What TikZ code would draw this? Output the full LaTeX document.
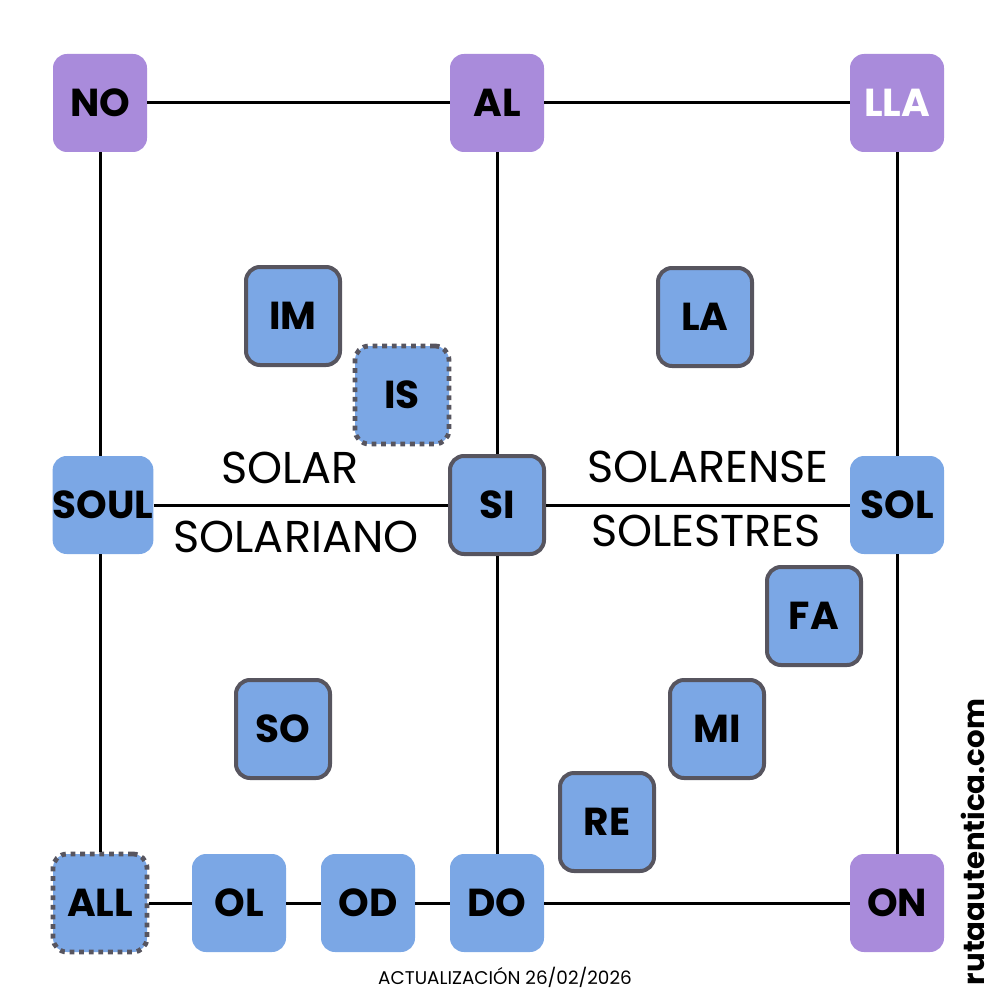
\documentclass[tikz,border=0pt]{standalone}
\usepackage{fontspec}
\setmainfont{Poppins}
\definecolor{lila}{HTML}{A98BDB}
\definecolor{azul}{HTML}{7BA7E5}
\definecolor{borde}{HTML}{57555F}
\begin{document}
\begin{tikzpicture}[x=0.5pt,y=-0.5pt,line join=round,
	caja/.style={rounded corners=7pt,minimum width=47pt,minimum height=49pt,inner sep=0pt,font=\bfseries\fontsize{19.5}{19.5}\selectfont},
	morada/.style={caja,fill=lila},
	celeste/.style={caja,fill=azul},
	marco/.style={celeste,draw=borde,line width=2pt},
	punteada/.style={celeste,draw=borde,line width=2.4pt,dash pattern=on 2.4pt off 2.4pt},
	rotulo/.style={font=\fontsize{22.3}{22.3}\selectfont},
	linea/.style={line width=1.5pt}]
	  \useasboundingbox (0,0) rectangle (1000,1000);
	  % esquinas
	  \foreach \n/\x/\y/\t in {no/100/103/NO,al/497/103/AL,on/897/903/ON}{
	      \node[morada] (\n) at (\x,\y) {\t};
	  }
	  \node[morada,text=white] (lla) at (897,103) {LLA};
	  % cajas azules
	  \foreach \n/\x/\y/\t in {soul/103/505/SOUL,sol/897/505/SOL,ol/239/903/OL,od/368/903/OD,do/497/903/DO}{
	      \node[celeste] (\n) at (\x,\y) {\t};
	  }
	  \foreach \n/\x/\y/\t in {im/293/316/IM,la/705/317/LA,si/497/505/SI,fa/814/616/FA,so/283/729/SO,mi/717/729/MI,re/607/822/RE}{
	      \node[marco] (\n) at (\x,\y) {\t};
	  }
	  \node[punteada] (is) at (402,395) {IS};
	  \node[punteada] (all) at (100,903) {ALL};
	  % lineas
	  \draw[linea] (no)--(al)--(lla) (lla)--(sol)--(on)
	  (no)--(soul.north-|no)  (soul.south-|no)--(all) (al)--(si)--(do)
	  (soul)--(si)--(sol)
	  (all)--(ol)--(od)--(do)--(on);
	  % textos
	  \node[rotulo] (solar) at (290,468) {SOLAR};
	  \node[rotulo] (solariano) at (296,537) {SOLARIANO};
	  \node[rotulo] (solarense) at (708,467) {SOLARENSE};
	  \node[rotulo] (solestres) at (706,531) {SOLESTRES};
	  \node[font=\fontsize{9.2}{9.2}\selectfont] (fecha) at (505,977) {ACTUALIZACIÓN 26/02/2026};
	  \node[rotate=90,font=\fontsize{14.6}{14.6}\selectfont\bfseries] (web) at (973,842) {rutaautentica.com};
\end{tikzpicture}
\end{document}
